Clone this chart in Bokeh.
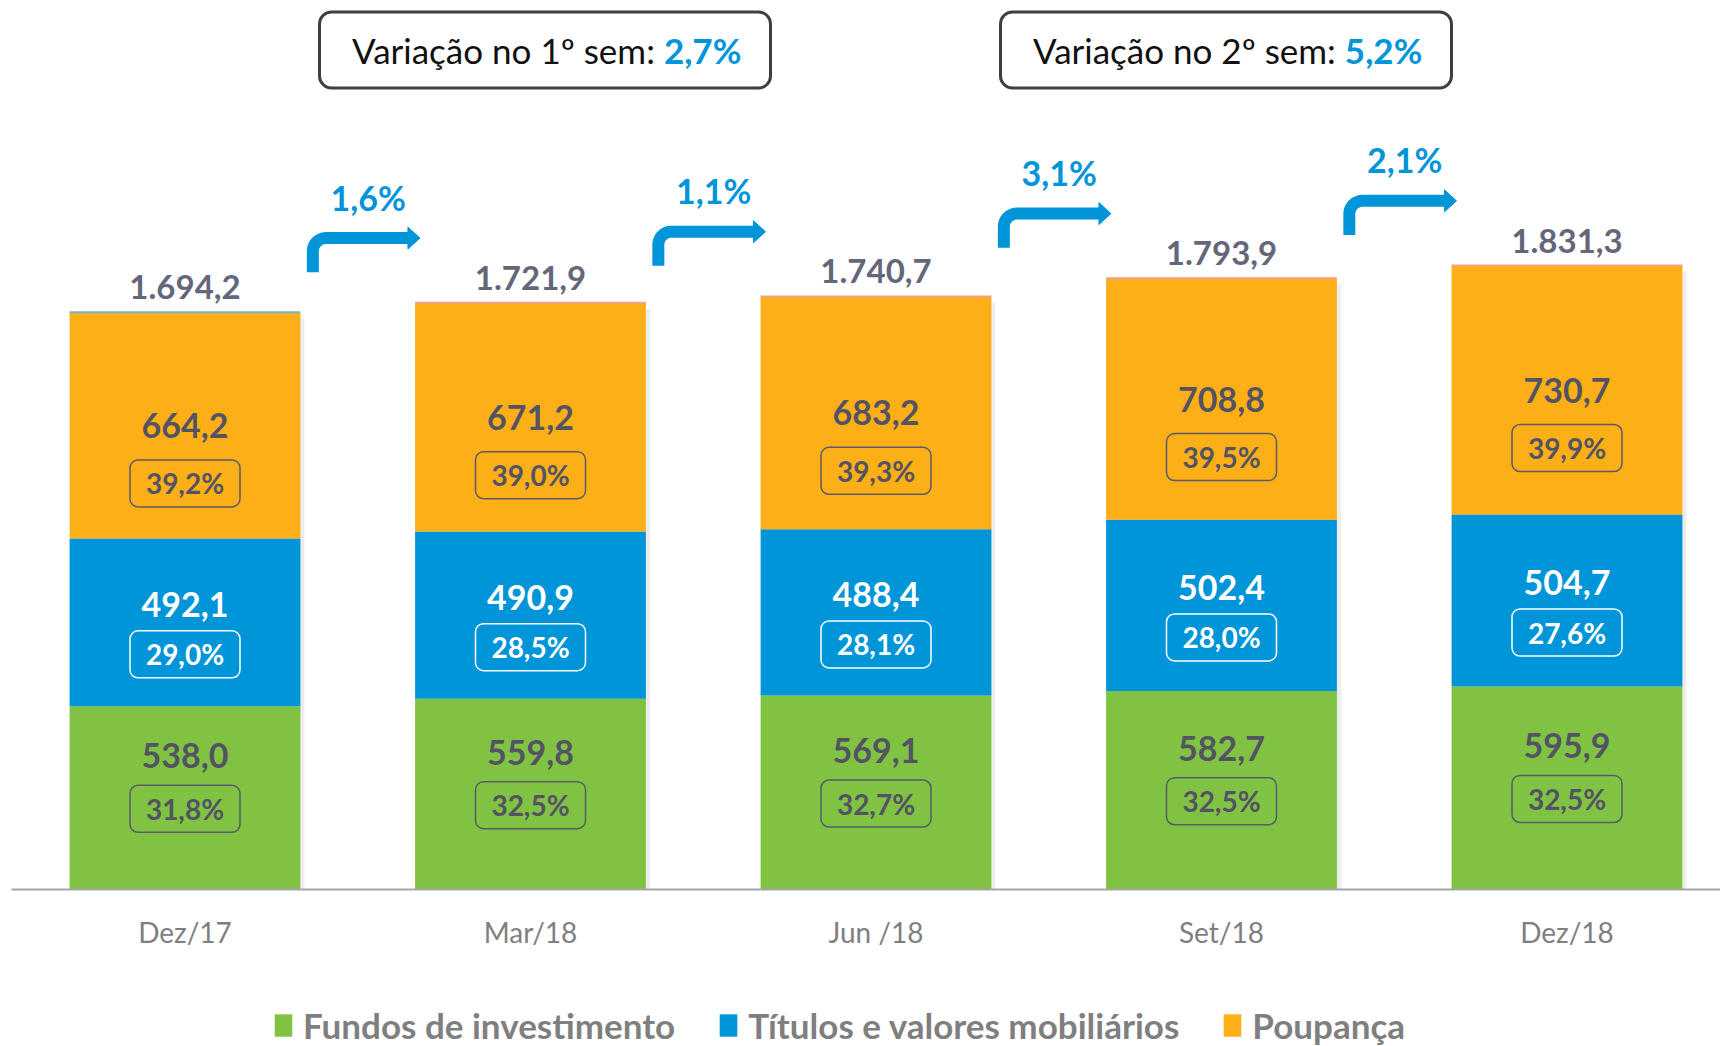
import numpy as np
from bokeh.plotting import figure
from bokeh.models import ColumnDataSource, Range1d
from bokeh.core.properties import value
from bokeh.embed import file_html
from bokeh.resources import INLINE

# ---------------- data ----------------
categories = ["Dez/17", "Mar/18", "Jun /18", "Set/18", "Dez/18"]
fundos = [538.0, 559.8, 569.1, 582.7, 595.9]
titulos = [492.1, 490.9, 488.4, 502.4, 504.7]
poupanca = [664.2, 671.2, 683.2, 708.8, 730.7]
totais = [1694.2, 1721.9, 1740.7, 1793.9, 1831.3]
pct_fundos = ["31,8%", "32,5%", "32,7%", "32,5%", "32,5%"]
pct_titulos = ["29,0%", "28,5%", "28,1%", "28,0%", "27,6%"]
pct_poupanca = ["39,2%", "39,0%", "39,3%", "39,5%", "39,9%"]
variacao_trim = ["1,6%", "1,1%", "3,1%", "2,1%"]
sem_titulos = ["Variação no 1º sem:", "Variação no 2º sem:"]
sem_valores = ["2,7%", "5,2%"]
series_names = ["Fundos de investimento", "Títulos e valores mobiliários", "Poupança"]

# ---------------- style / layout ----------------
GREEN, BLUE, ORANGE = "#80C242", "#0095D9", "#FCAF17"
DARK = "#535364"
FONT = "Lato"
W, H = 1720, 1046
AXIS_Y_PX = 889                   # pixel row of the baseline
PX_X = 345.5                      # pixels per category
X_START = -184.5 / PX_X
X_END = X_START + W / PX_X
PX_Y = 0.3407                     # pixels per unit
Y_MAX = AXIS_Y_PX / PX_Y
Y_MIN = -(H - AXIS_Y_PX) / PX_Y
BAR_W = 0.668
TOP_EDGE_COLORS = ["#6FB8C8", "#F0A08C", "#F0A08C", "#F0A08C", "#F0A08C"]


def fmt(v):
    return f"{v:,.1f}".replace(",", "X").replace(".", ",").replace("X", ".")


x = np.arange(len(categories), dtype=float)
f = np.array(fundos)
t = np.array(titulos)
pp = np.array(poupanca)
tot = np.array(totais)

p = figure(width=W, height=H, x_range=Range1d(X_START, X_END), y_range=Range1d(Y_MIN, Y_MAX),
           output_backend="svg", toolbar_location=None, min_border=0,
           x_axis_location=None, y_axis_location=None, outline_line_color=None,
           background_fill_color="white")
p.grid.visible = False

# subtle shadow
p.vbar(x=x + 4 / PX_X, top=tot - 6 / PX_Y, bottom=0, width=BAR_W,
       fill_color="black", fill_alpha=0.07, line_color=None)

src = ColumnDataSource(dict(x=x, fundos=f, titulos=t, poupanca=pp))
p.vbar_stack(["fundos", "titulos", "poupanca"], x="x", width=BAR_W, source=src,
             fill_color=[GREEN, BLUE, ORANGE], line_color=None, legend_label=series_names)

# thin top edge of each bar
p.segment(x0=x - BAR_W / 2, y0=tot, x1=x + BAR_W / 2, y1=tot,
          line_color=TOP_EDGE_COLORS, line_width=2)

# baseline (category axis line)
p.segment(x0=[X_START + 11 / PX_X], y0=[0], x1=[X_END], y1=[0],
          line_color="#A6A6A6", line_width=2)

# category labels
p.text(x=x, y=-42 / PX_Y, text=categories, text_font=value(FONT), text_font_size="28px",
       text_color="#7F7F7F", text_align="center", text_baseline="middle")

# segment value labels and percentage boxes
centers = [f / 2, f + t / 2, f + t + pp / 2]
vals = [f, t, pp]
pcts = [pct_fundos, pct_titulos, pct_poupanca]
txt_colors = [DARK, "white", DARK]
box_colors = ["#5A5A6B", "white", "#5A5A6B"]
val_off = [-42, -18, 0]     # screen px (positive = down)
box_off = [11, 32, 58]
for k in range(3):
    yv = centers[k] - val_off[k] / PX_Y
    yb = centers[k] - box_off[k] / PX_Y
    p.text(x=x, y=yv, text=[fmt(v) for v in vals[k]], text_font=value(FONT),
           text_font_style="bold", text_font_size="34px", text_color=txt_colors[k],
           text_align="center", text_baseline="middle")
    p.rect(x=x, y=yb, width=110, height=47, width_units="screen", height_units="screen",
           fill_color=None, line_color=box_colors[k], line_width=1.5, border_radius=8)
    p.text(x=x, y=yb, text=pcts[k], text_font=value(FONT), text_font_style="bold",
           text_font_size="28px", text_color=txt_colors[k], text_align="center",
           text_baseline="middle")

# totals
p.text(x=x, y=tot + 25 / PX_Y, text=[fmt(v) for v in totais], text_font=value(FONT),
       text_font_style="bold", text_font_size="33px", text_color="#64667A",
       text_align="center", text_baseline="middle")

# growth arrows
xs_l, ys_l, xs_h, ys_h, lx, ly = [], [], [], [], [], []
r_px = 13
ang = np.linspace(np.pi, np.pi / 2, 12)
for i in range(len(variacao_trim)):
    xv = i + 0.37
    base = tot[i + 1] + 90
    hz = base + 100
    tip = i + 0.68
    hl = 12 / PX_X
    hh = 11 / PX_Y
    rx, ry = r_px / PX_X, r_px / PX_Y
    cx, cy = xv + rx, hz - ry
    arc_x = list(cx + rx * np.cos(ang))
    arc_y = list(cy + ry * np.sin(ang))
    xs_l.append([xv] + arc_x + [tip - hl + 1 / PX_X])
    ys_l.append([base] + arc_y + [hz])
    xs_h.append([tip - hl, tip, tip - hl])
    ys_h.append([hz + hh, hz, hz - hh])
    lx.append(i + 0.53)
    ly.append(hz + 41 / PX_Y)
p.multi_line(xs=xs_l, ys=ys_l, line_color=BLUE, line_width=12, line_join="round",
             line_cap="butt")
p.patches(xs=xs_h, ys=ys_h, fill_color=BLUE, line_color=BLUE, line_width=1)
p.text(x=lx, y=ly, text=variacao_trim, text_font=value(FONT), text_font_style="bold",
       text_font_size="34px", text_color=BLUE, text_align="center", text_baseline="middle")

# semester boxes
box_x = np.array([1.042, 3.013])
box_y = Y_MAX - 49.5 / PX_Y
p.rect(x=box_x, y=[box_y] * 2, width=451, height=76, width_units="screen",
       height_units="screen", fill_color="white", line_color="#3F3F3F", line_width=3,
       border_radius=12)
split = box_x + 0.318
p.text(x=split, y=[box_y] * 2, text=sem_titulos, text_font=value(FONT),
       text_font_size="35px", text_color="#111111", text_align="right",
       text_baseline="middle")
p.text(x=split, y=[box_y] * 2, text=sem_valores, text_font=value(FONT),
       text_font_style="bold", text_font_size="35px", text_color=BLUE, text_align="left",
       text_baseline="middle", x_offset=9)

# legend
leg = p.legend[0]
leg.location = (272, 0)
leg.orientation = "horizontal"
leg.glyph_width = 22
leg.glyph_height = 28
leg.label_standoff = 9
leg.spacing = 42
leg.padding = 0
leg.margin = 0
leg.border_line_color = None
leg.background_fill_alpha = 0
leg.label_text_font = FONT
leg.label_text_font_style = "bold"
leg.label_text_font_size = "35px"
leg.label_text_color = "#7F7F7F"

open("out.html", "w").write(file_html(p, INLINE))
